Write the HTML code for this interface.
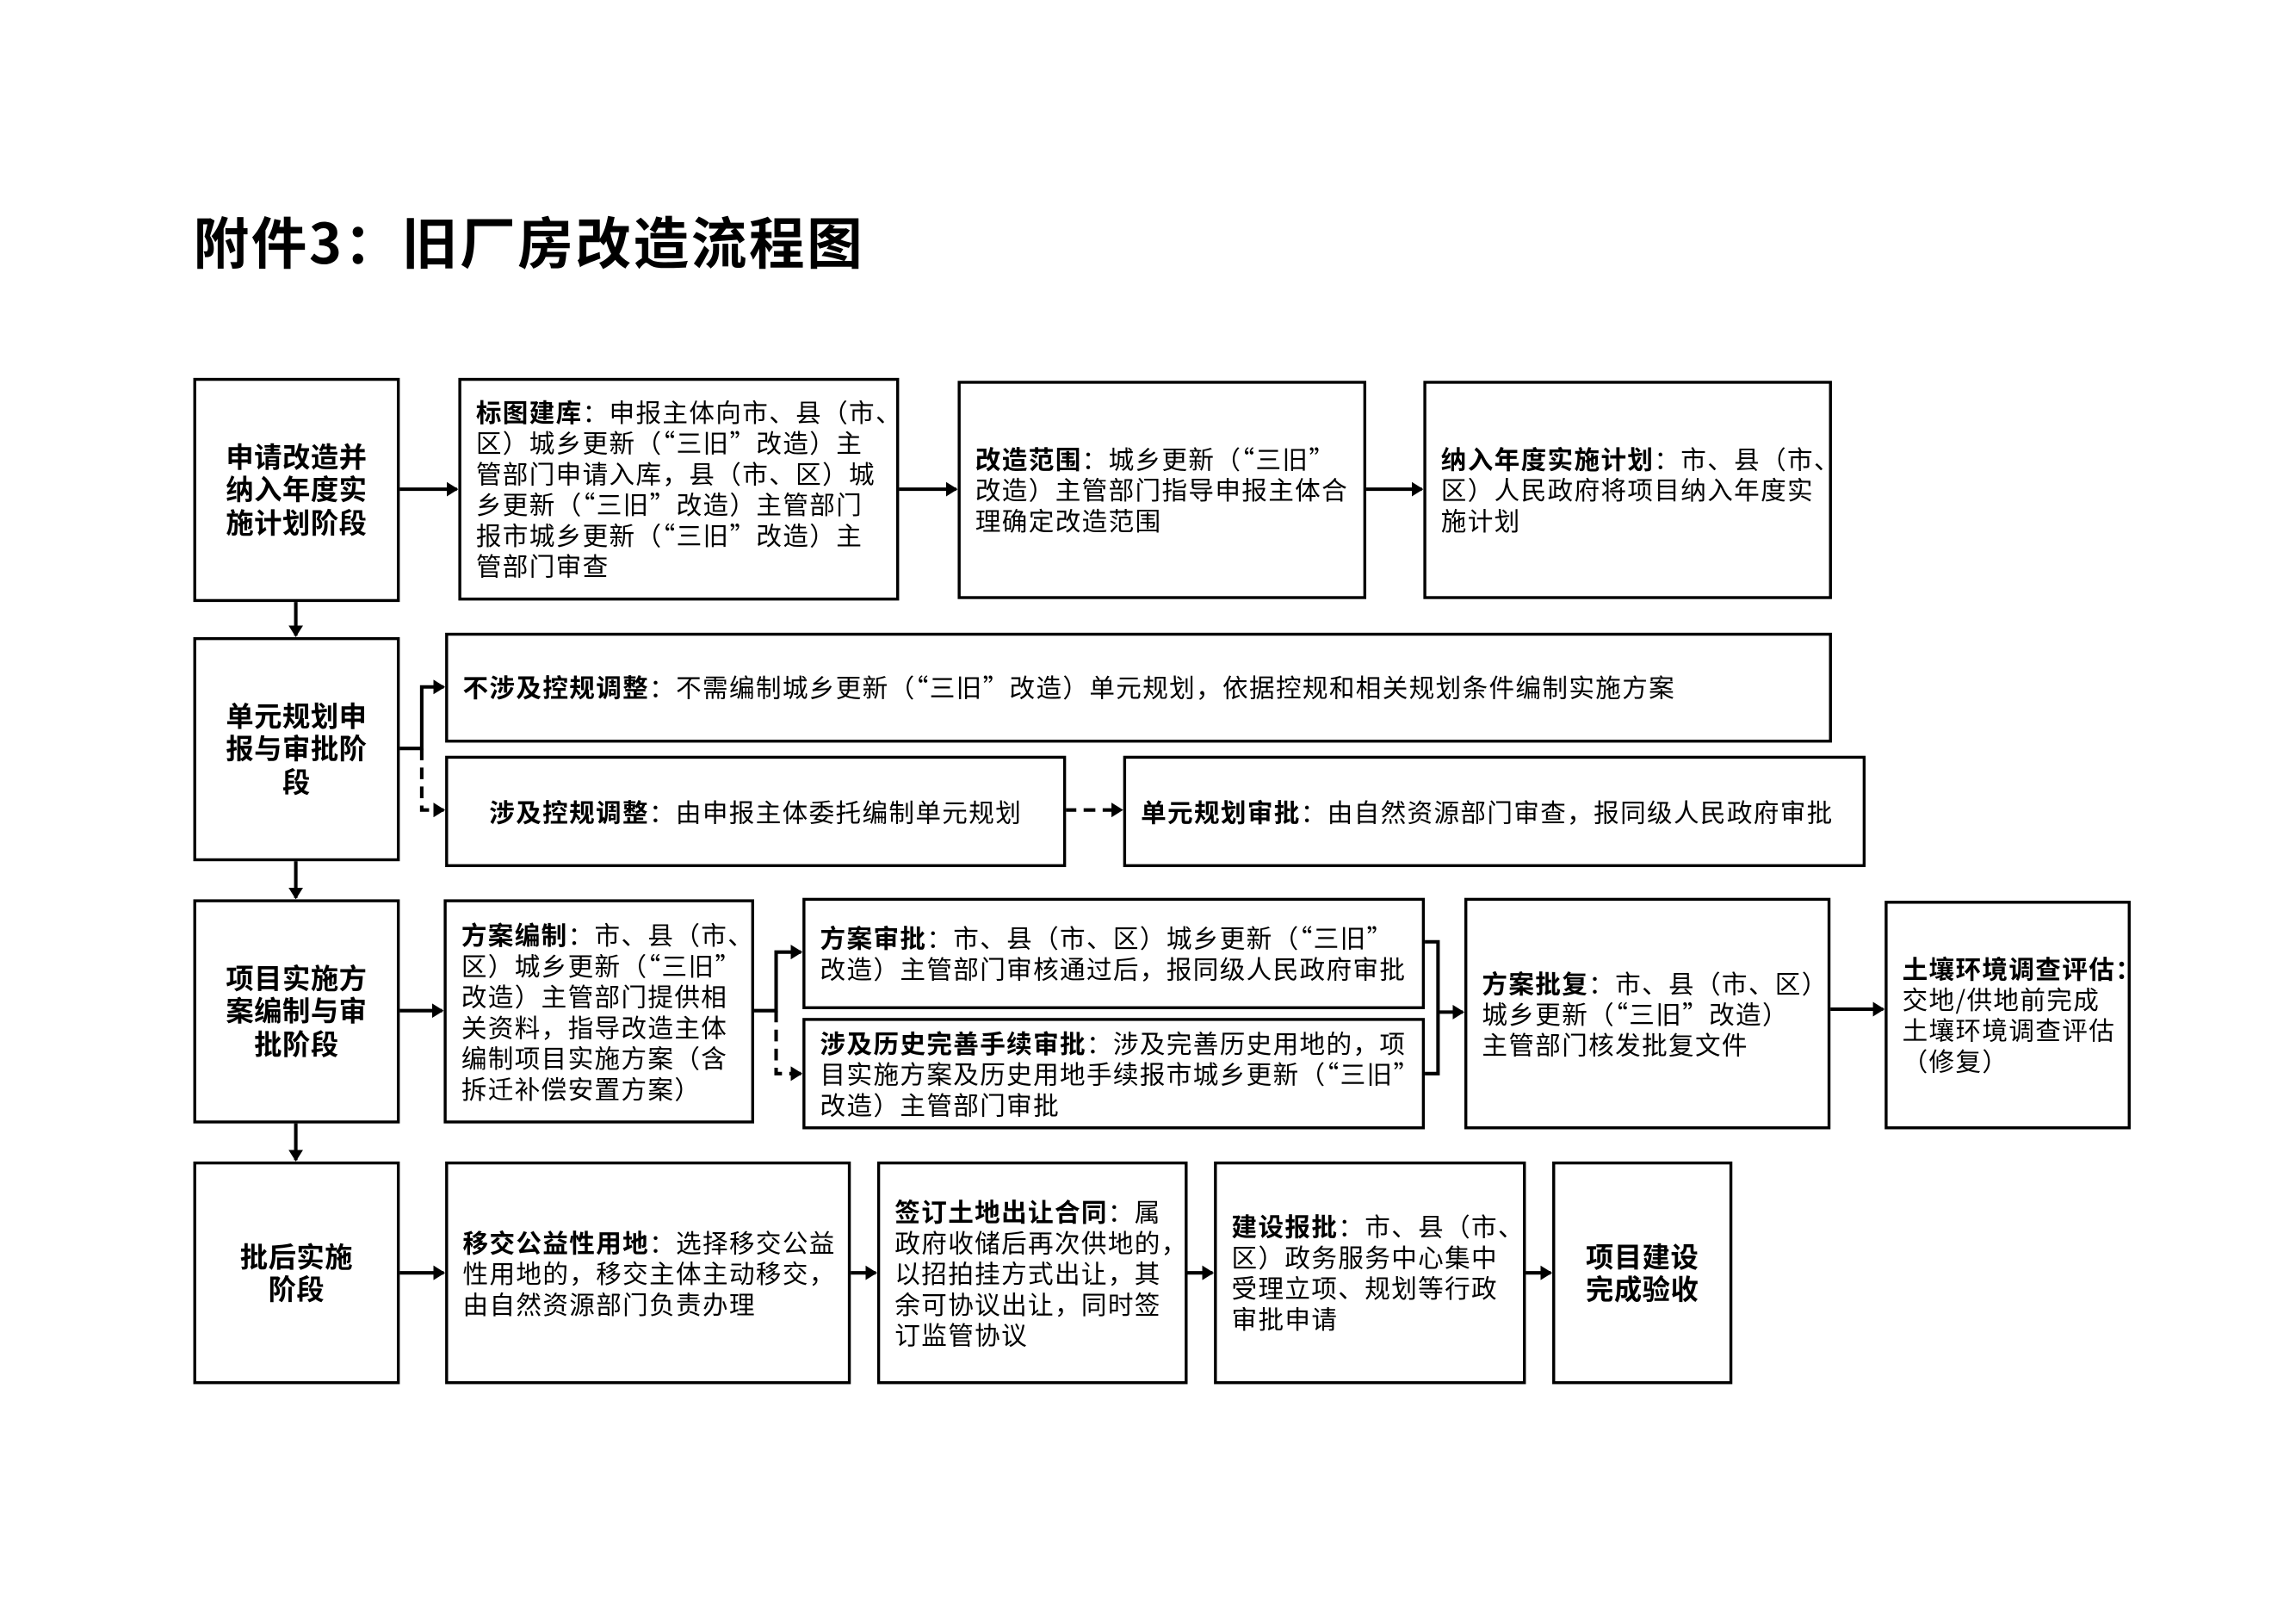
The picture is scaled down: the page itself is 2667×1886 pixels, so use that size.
<!DOCTYPE html>
<html><head><meta charset="utf-8">
<style>
html,body{margin:0;padding:0;background:#fff;}
body{width:2667px;height:1886px;overflow:hidden;position:relative;}
#w{position:absolute;left:0;top:0;width:1568px;height:1109px;transform:scale(1.701);transform-origin:0 0;font-family:"Noto Sans CJK SC","Liberation Sans",sans-serif;color:#000;}
.b{position:absolute;box-sizing:border-box;border:2.4px solid #000;background:#fff;display:flex;align-items:center;font-size:17.4px;line-height:21px;white-space:nowrap;letter-spacing:0.8px;}
.t{padding-left:10px;}
.c{justify-content:center;text-align:center;font-weight:bold;font-size:19px;line-height:22.5px;letter-spacing:0.3px;}
b{font-weight:bold;}
h1{position:absolute;left:132px;top:136px;margin:0;font-size:38px;font-weight:bold;letter-spacing:1.5px;}
svg{position:absolute;left:0;top:0;}
</style></head><body><div id="w">
<h1>附件3：旧厂房改造流程图</h1>
<svg width="1568" height="1109" viewBox="0 0 1568 1109">
<defs><marker id="a" markerWidth="8" markerHeight="10" refX="7" refY="5" orient="auto" markerUnits="userSpaceOnUse"><path d="M0,0 L8,5 L0,10 Z" fill="#000"/></marker></defs>
<g stroke="#000" stroke-width="2.4" fill="none">
<line x1="202" y1="410" x2="202" y2="434" marker-end="url(#a)"/>
<line x1="202" y1="587" x2="202" y2="613" marker-end="url(#a)"/>
<line x1="202" y1="766" x2="202" y2="792" marker-end="url(#a)"/>
<line x1="272" y1="334" x2="312" y2="334" marker-end="url(#a)"/>
<line x1="613" y1="334" x2="653" y2="334" marker-end="url(#a)"/>
<line x1="932" y1="334" x2="971" y2="334" marker-end="url(#a)"/>
<polyline points="272,511 288,511 288,469 303,469" marker-end="url(#a)"/>
<polyline points="288,511 288,553 303,553" stroke-dasharray="8,5" marker-end="url(#a)"/>
<line x1="727" y1="553" x2="766" y2="553" stroke-dasharray="8,5" marker-end="url(#a)"/>
<line x1="272" y1="690" x2="302" y2="690" marker-end="url(#a)"/>
<polyline points="514,690 530,690 530,650 547,650" marker-end="url(#a)"/>
<polyline points="530,690 530,733 547,733" stroke-dasharray="8,5" marker-end="url(#a)"/>
<polyline points="972,643 982,643 982,733 972,733"/>
<line x1="982" y1="691" x2="999" y2="691" marker-end="url(#a)"/>
<line x1="1249" y1="689" x2="1286" y2="689" marker-end="url(#a)"/>
<line x1="272" y1="869" x2="303" y2="869" marker-end="url(#a)"/>
<line x1="580" y1="869" x2="598" y2="869" marker-end="url(#a)"/>
<line x1="810" y1="869" x2="828" y2="869" marker-end="url(#a)"/>
<line x1="1041" y1="869" x2="1059" y2="869" marker-end="url(#a)"/>
</g></svg>

<div class="b c" style="left:132px;top:258px;width:141px;height:153px;">申请改造并<br>纳入年度实<br>施计划阶段</div>
<div class="b t" style="left:313px;top:258px;width:301px;height:152px;"><div><b>标图建库</b>：申报主体向市、县（市、<br>区）城乡更新（“三旧”改造）主<br>管部门申请入库，县（市、区）城<br>乡更新（“三旧”改造）主管部门<br>报市城乡更新（“三旧”改造）主<br>管部门审查</div></div>
<div class="b t" style="left:654px;top:260px;width:279px;height:149px;"><div><b>改造范围</b>：城乡更新（“三旧”<br>改造）主管部门指导申报主体合<br>理确定改造范围</div></div>
<div class="b t" style="left:972px;top:260px;width:279px;height:149px;"><div><b>纳入年度实施计划</b>：市、县（市、<br>区）人民政府将项目纳入年度实<br>施计划</div></div>

<div class="b c" style="left:132px;top:435px;width:141px;height:153px;">单元规划申<br>报与审批阶<br>段</div>
<div class="b t" style="left:304px;top:432px;width:947px;height:75px;"><div><b>不涉及控规调整</b>：不需编制城乡更新（“三旧”改造）单元规划，依据控规和相关规划条件编制实施方案</div></div>
<div class="b" style="left:304px;top:516px;width:424px;height:76px;justify-content:center;"><div><b>涉及控规调整</b>：由申报主体委托编制单元规划</div></div>
<div class="b t" style="left:767px;top:516px;width:507px;height:76px;"><div><b>单元规划审批</b>：由自然资源部门审查，报同级人民政府审批</div></div>

<div class="b c" style="left:132px;top:614px;width:141px;height:153px;">项目实施方<br>案编制与审<br>批阶段</div>
<div class="b t" style="left:303px;top:614px;width:212px;height:153px;"><div><b>方案编制</b>：市、县（市、<br>区）城乡更新（“三旧”<br>改造）主管部门提供相<br>关资料，指导改造主体<br>编制项目实施方案（含<br>拆迁补偿安置方案）</div></div>
<div class="b t" style="left:548px;top:613px;width:425px;height:76px;"><div><b>方案审批</b>：市、县（市、区）城乡更新（“三旧”<br>改造）主管部门审核通过后，报同级人民政府审批</div></div>
<div class="b t" style="left:548px;top:695px;width:425px;height:76px;"><div><b>涉及历史完善手续审批</b>：涉及完善历史用地的，项<br>目实施方案及历史用地手续报市城乡更新（“三旧”<br>改造）主管部门审批</div></div>
<div class="b t" style="left:1000px;top:613px;width:250px;height:158px;"><div><b>方案批复</b>：市、县（市、区）<br>城乡更新（“三旧”改造）<br>主管部门核发批复文件</div></div>
<div class="b t" style="left:1287px;top:615px;width:168px;height:156px;"><div><b>土壤环境调查评估：</b><br>交地/供地前完成<br>土壤环境调查评估<br>（修复）</div></div>

<div class="b c" style="left:132px;top:793px;width:141px;height:152px;">批后实施<br>阶段</div>
<div class="b t" style="left:304px;top:793px;width:277px;height:152px;"><div><b>移交公益性用地</b>：选择移交公益<br>性用地的，移交主体主动移交，<br>由自然资源部门负责办理</div></div>
<div class="b t" style="left:599px;top:793px;width:212px;height:152px;"><div><b>签订土地出让合同</b>：属<br>政府收储后再次供地的，<br>以招拍挂方式出让，其<br>余可协议出让，同时签<br>订监管协议</div></div>
<div class="b t" style="left:829px;top:793px;width:213px;height:152px;"><div><b>建设报批</b>：市、县（市、<br>区）政务服务中心集中<br>受理立项、规划等行政<br>审批申请</div></div>
<div class="b c" style="left:1060px;top:793px;width:123px;height:152px;">项目建设<br>完成验收</div>
</div></body></html>
